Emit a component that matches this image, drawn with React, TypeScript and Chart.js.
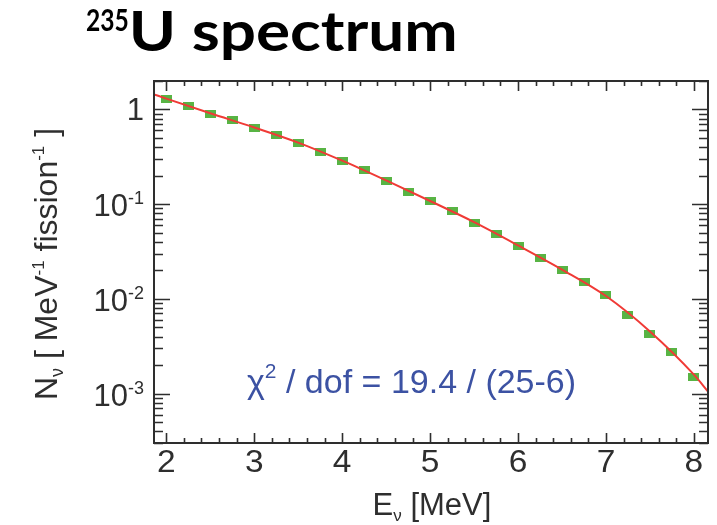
import React, { useEffect, useRef } from "react";
import { Chart, registerables } from "chart.js";

Chart.register(...registerables);

// ---- data ----
const energies = [2.0, 2.25, 2.5, 2.75, 3.0, 3.25, 3.5, 3.75, 4.0, 4.25, 4.5, 4.75, 5.0, 5.25, 5.5, 5.75, 6.0, 6.25, 6.5, 6.75, 7.0, 7.25, 7.5, 7.75, 8.0];
const spectrum = [1.3, 1.1, 0.9, 0.784, 0.645, 0.544, 0.444, 0.36, 0.284, 0.23, 0.174, 0.136, 0.109, 0.0853, 0.0637, 0.0483, 0.0364, 0.0269, 0.0203, 0.0152, 0.0109, 0.00672, 0.0043, 0.00275, 0.00148];
const fitEnergies = [1.86, 2.0, 2.5, 3.0, 3.5, 4.0, 4.5, 5.0, 5.5, 6.0, 6.5, 7.0, 7.5, 8.0, 8.16];
const fitValues = [1.445, 1.303, 0.912, 0.646, 0.447, 0.288, 0.178, 0.108, 0.0646, 0.0367, 0.0204, 0.0107, 0.00452, 0.00158, 0.00105];
const xTickValues = [2, 3, 4, 5, 6, 7, 8];
const yTickExponents = [0, -1, -2, -3];
const titleSup = "235";
const titleMain = "U spectrum";
const chiLabel = "χ";
const chiSup = "2";
const chiRest = " / dof = 19.4 / (25-6)";

const X_MIN = 1.86;
const X_MAX = 8.16;
const Y_MIN = 3e-4;
const Y_MAX = 2;

const FONT = '"Liberation Sans", Arial, Helvetica, sans-serif';
const INK = "#2e2e2e";

type Part = { t: string; size: number; dy?: number; weight?: string; family?: string; sx?: number };

function drawRich(ctx: CanvasRenderingContext2D, parts: Part[], x: number, y: number, align: "left" | "center" | "right", color: string) {
  ctx.save();
  ctx.fillStyle = color;
  ctx.textBaseline = "alphabetic";
  ctx.textAlign = "left";
  const widths = parts.map((p) => {
    ctx.font = `${p.weight || "normal"} ${p.size}px ${p.family || FONT}`;
    return ctx.measureText(p.t).width * (p.sx || 1);
  });
  const total = widths.reduce((a, b) => a + b, 0);
  let cx = align === "left" ? x : align === "center" ? x - total / 2 : x - total;
  parts.forEach((p, i) => {
    ctx.font = `${p.weight || "normal"} ${p.size}px ${p.family || FONT}`;
    ctx.save();
    ctx.translate(cx, y + (p.dy || 0));
    ctx.scale(p.sx || 1, 1);
    ctx.fillText(p.t, 0, 0);
    ctx.restore();
    cx += widths[i];
  });
  ctx.restore();
}

const framePlugin = {
  id: "rootFrame",
  afterDraw(chart: any) {
    const ctx: CanvasRenderingContext2D = chart.ctx;
    const { left, right, top, bottom } = chart.chartArea;
    const xs = chart.scales.x;
    const ys = chart.scales.y;
    ctx.save();
    ctx.strokeStyle = INK;
    ctx.lineWidth = 2;
    ctx.strokeRect(left, top, right - left, bottom - top);

    ctx.lineWidth = 1.6;
    ctx.beginPath();
    // x ticks (major every 1, minor every 0.2)
    for (let k = Math.ceil(X_MIN * 5); k <= Math.floor(X_MAX * 5); k++) {
      const v = k / 5;
      const px = Math.round(xs.getPixelForValue(v)) + 0.5;
      const len = k % 5 === 0 ? 10 : 5;
      ctx.moveTo(px, bottom);
      ctx.lineTo(px, bottom - len);
      ctx.moveTo(px, top);
      ctx.lineTo(px, top + len);
    }
    // y ticks (log)
    for (let e = -4; e <= 0; e++) {
      for (let m = 1; m <= 9; m++) {
        const v = m * Math.pow(10, e);
        if (v < Y_MIN * 0.999 || v > Y_MAX * 1.001) continue;
        const py = Math.round(ys.getPixelForValue(v)) + 0.5;
        const len = m === 1 ? 16 : 9;
        ctx.moveTo(left, py);
        ctx.lineTo(left + len, py);
        ctx.moveTo(right, py);
        ctx.lineTo(right - len, py);
      }
    }
    ctx.stroke();
    ctx.restore();

    // x tick labels
    xTickValues.forEach((v) => {
      drawRich(ctx, [{ t: String(v), size: 31, sx: 1.08 }], xs.getPixelForValue(v), 472, "center", INK);
    });
    // y tick labels
    yTickExponents.forEach((e) => {
      const py = ys.getPixelForValue(Math.pow(10, e));
      if (e === 0) {
        drawRich(ctx, [{ t: "1", size: 31 }], 144, py + 11, "right", INK);
      } else {
        drawRich(ctx, [{ t: "10", size: 31 }, { t: String(e), size: 18, dy: -12 }], 144, py + 12, "right", INK);
      }
    });

    // x axis title
    drawRich(ctx, [{ t: "E", size: 31 }, { t: "ν", size: 17, dy: 6 }, { t: " [MeV]", size: 31 }], 432, 515, "center", INK);

    // y axis title (rotated)
    ctx.save();
    ctx.translate(57, 264);
    ctx.rotate(-Math.PI / 2);
    drawRich(
      ctx,
      [
        { t: "N", size: 32 },
        { t: "ν", size: 18, dy: 6 },
        { t: " [ MeV", size: 32 },
        { t: "-1", size: 17, dy: -13 },
        { t: " fission", size: 32 },
        { t: "-1", size: 17, dy: -13 },
        { t: " ]", size: 32 },
      ],
      0,
      0,
      "center",
      INK
    );
    ctx.restore();

    // chi2 annotation
    drawRich(
      ctx,
      [
        { t: chiLabel, size: 34 },
        { t: chiSup, size: 21, dy: -15 },
        { t: chiRest, size: 34 },
      ],
      247,
      393,
      "left",
      "#3c52a3"
    );

    // title
    drawRich(
      ctx,
      [
        { t: titleSup, size: 30, dy: -20, weight: "bold", family: "Lato, sans-serif", sx: 0.82 },
        { t: titleMain, size: 55, weight: "bold", family: "Lato, sans-serif", sx: 1.16 },
      ],
      86,
      51,
      "left",
      "#000000"
    );
  },
};

function makeMarker(): HTMLCanvasElement {
  const c = document.createElement("canvas");
  c.width = 11;
  c.height = 8;
  const g = c.getContext("2d")!;
  g.fillStyle = "#58b444";
  g.fillRect(0, 0, 11, 8);
  return c;
}

export default function App() {
  const ref = useRef<HTMLCanvasElement | null>(null);
  useEffect(() => {
    document.body.style.margin = "0";
    const canvas = ref.current!;
    const chart = new Chart(canvas, {
      type: "scatter",
      data: {
        datasets: [
          {
            label: "fit",
            data: fitEnergies.map((x, i) => ({ x, y: fitValues[i] })),
            showLine: true,
            borderColor: "#f03a36",
            borderWidth: 2,
            pointRadius: 0,
            cubicInterpolationMode: "monotone",
            order: 0,
          },
          {
            label: "235U",
            data: energies.map((x, i) => ({ x, y: spectrum[i] })),
            showLine: false,
            pointStyle: makeMarker(),
            pointRadius: 5,
            order: 1,
          },
        ],
      },
      options: {
        animation: false,
        responsive: false,
        maintainAspectRatio: false,
        layout: { padding: { left: 154, top: 81, right: 9, bottom: 82 } },
        plugins: { legend: { display: false }, tooltip: { enabled: false } },
        events: [],
        scales: {
          x: { type: "linear", min: X_MIN, max: X_MAX, display: false },
          y: { type: "logarithmic", min: Y_MIN, max: Y_MAX, display: false },
        },
      },
      plugins: [framePlugin],
    } as any);
    return () => chart.destroy();
  }, []);
  return (
    <div style={{ position: "fixed", left: 0, top: 0, width: 717, height: 525, background: "#fff" }}>
      <canvas ref={ref} width={717} height={525} style={{ width: 717, height: 525, display: "block" }} />
    </div>
  );
}
